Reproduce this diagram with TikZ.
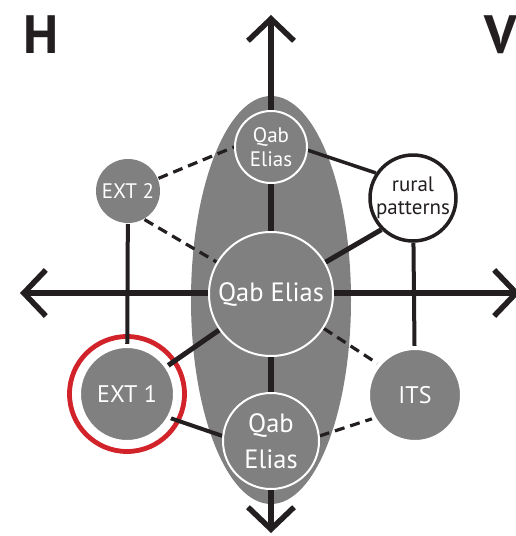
\documentclass[tikz,border=0pt]{standalone}
\usepackage{fontspec}
\setmainfont{PT Sans}
\usetikzlibrary{arrows.meta,backgrounds}
\definecolor{ink}{RGB}{35,31,32}
\definecolor{gr}{RGB}{128,128,128}
\definecolor{redring}{RGB}{210,35,42}
\tikzset{
  gcirc/.style={circle,fill=gr,draw=white,line width=2pt,inner sep=0pt,text=white,align=center},
  halo/.style={circle,fill=gr,draw=white,line width=4pt,inner sep=0pt,text=white,align=center},
  wcirc/.style={circle,fill=white,draw=ink,line width=3.5pt,inner sep=0pt,text=ink,align=center},
  axisline/.style={draw=ink,line width=5.5pt},
  barb/.tip={Straight Barb[length=22pt,width=46pt]},
  solidc/.style={draw=ink,line width=4pt},
  dashc/.style={draw=ink,line width=3.2pt,dash pattern=on 10pt off 6pt},
  big/.style={font=\fontsize{26.5}{34}\selectfont},
  mid/.style={font=\fontsize{24}{30}\selectfont},
  small/.style={font=\fontsize{21}{25}\selectfont},
  title/.style={font=\fontsize{54}{54}\selectfont\bfseries,text=ink,inner sep=0pt}
}
\begin{document}
\begin{tikzpicture}[x=1pt,y=-1pt]
\useasboundingbox (0,0) rectangle (515,536);
% coordinates for axis ends
\coordinate (atop) at (271,15);
\coordinate (abot) at (271,533);
\coordinate (aleft) at (20,293);
\coordinate (aright) at (520,293);
% nodes
\node[gcirc,minimum size=72pt,small] (topq) at (271,147) {Qab\\[-1pt]Elias};
\node[gcirc,minimum size=124pt,big] (central) at (271,294) {Qab Elias};
\node[gcirc,minimum size=96pt,big] (botq) at (271,441) {Qab\\[2pt]Elias};
\node[gcirc,draw=none,minimum size=64pt,small] (ext2) at (128,191) {EXT 2};
\node[halo,minimum size=96pt,mid] (ext1) at (127,394) {EXT 1};
\node[halo,minimum size=94pt,mid] (its) at (415,395) {ITS};
\node[wcirc,minimum size=86pt,small] (rural) at (413,198) {rural\\[-2pt]patterns};
\node[title,anchor=base west] (H) at (23,53) {H};
\node[title,anchor=base west] (V) at (484,53) {V};
\begin{pgfonlayer}{background}
  \fill[gr] (271,300) ellipse [x radius=80, y radius=204];
  \draw[redring,line width=4.8pt] (ext1.center) circle [radius=57.5];
  \draw[axisline,barb-barb] (abot) -- (atop);
  \draw[axisline,barb-barb] (aleft) -- (aright);
  \draw[solidc] (ext2) -- (ext1);
  \draw[solidc] (rural) -- (its);
  \draw[dashc] (ext2) -- (topq.west);
  \draw[dashc] (ext2.-60) -- (central);
  \draw[solidc,line width=3.5pt] (topq.-5) -- (rural.146);
  \draw[solidc,line width=5pt] (central) -- (rural.225);
  \draw[solidc,line width=5pt] (central) -- (ext1);
  \draw[solidc] (ext1.-29) -- (botq.174);
  \draw[dashc] (central) -- (its.140);
  \draw[dashc] (botq.6) -- (its.209);
\end{pgfonlayer}
\end{tikzpicture}
\end{document}
